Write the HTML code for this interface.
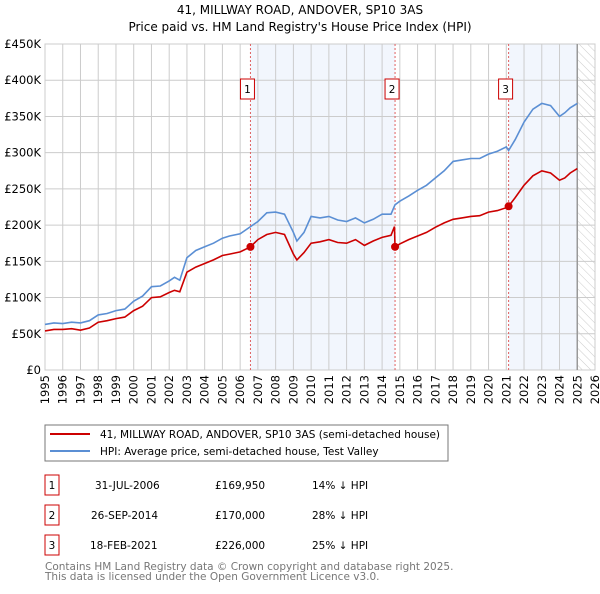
<!DOCTYPE html>
<html><head><meta charset="utf-8"><style>
body{margin:0;background:#fff;font-family:"DejaVu Sans","Liberation Sans",sans-serif;}
svg text{font-family:"DejaVu Sans","Liberation Sans",sans-serif;}
</style></head><body>
<svg id="c" width="600" height="590" xmlns="http://www.w3.org/2000/svg">
<defs><pattern id="hatch" width="6" height="6" patternUnits="userSpaceOnUse" patternTransform="rotate(-45)"><line x1="0" y1="0" x2="0" y2="6" stroke="#ccc" stroke-width="1"/></pattern></defs>
<text x="300" y="14" text-anchor="middle" font-size="12">41, MILLWAY ROAD, ANDOVER, SP10 3AS</text>
<text x="300" y="31" text-anchor="middle" font-size="12">Price paid vs. HM Land Registry's House Price Index (HPI)</text>
<g id="plot"></g>
<rect x="45" y="425" width="403" height="36" fill="#fff" stroke="#777"/>
<line x1="50" y1="434" x2="90" y2="434" stroke="#cc0000" stroke-width="2"/>
<text x="100" y="438" font-size="10.5">41, MILLWAY ROAD, ANDOVER, SP10 3AS (semi-detached house)</text>
<line x1="50" y1="451" x2="90" y2="451" stroke="#5b8fd4" stroke-width="2"/>
<text x="100" y="455" font-size="10.5">HPI: Average price, semi-detached house, Test Valley</text>
<g font-size="10.5">
<rect x="45" y="475" width="14" height="20" fill="none" stroke="#c00"/><text x="52" y="489" text-anchor="middle">1</text>
<text x="95" y="489">31-JUL-2006</text><text x="215" y="489">£169,950</text><text x="312" y="489">14% ↓ HPI</text>
<rect x="45" y="505" width="14" height="20" fill="none" stroke="#c00"/><text x="52" y="519" text-anchor="middle">2</text>
<text x="91" y="519">26-SEP-2014</text><text x="215" y="519">£170,000</text><text x="312" y="519">28% ↓ HPI</text>
<rect x="45" y="535" width="14" height="20" fill="none" stroke="#c00"/><text x="52" y="549" text-anchor="middle">3</text>
<text x="90" y="549">18-FEB-2021</text><text x="215" y="549">£226,000</text><text x="312" y="549">25% ↓ HPI</text>
</g>
<text x="45" y="570" font-size="10.5" fill="#777">Contains HM Land Registry data © Crown copyright and database right 2025.</text>
<text x="45" y="580" font-size="10.5" fill="#777">This data is licensed under the Open Government Licence v3.0.</text>
</svg>
<script>
const yTicks=[0,50000,100000,150000,200000,250000,300000,350000,400000,450000];
const yTickLabels=["£0","£50K","£100K","£150K","£200K","£250K","£300K","£350K","£400K","£450K"];
const xYears=[1995,1996,1997,1998,1999,2000,2001,2002,2003,2004,2005,2006,2007,2008,2009,2010,2011,2012,2013,2014,2015,2016,2017,2018,2019,2020,2021,2022,2023,2024,2025,2026];
const hpiT=[1995,1995.5,1996,1996.5,1997,1997.5,1998,1998.5,1999,1999.5,2000,2000.5,2001,2001.5,2002,2002.3,2002.6,2003,2003.5,2004,2004.5,2005,2005.4,2006,2006.58,2007,2007.5,2008,2008.5,2009,2009.2,2009.6,2010,2010.5,2011,2011.5,2012,2012.5,2013,2013.5,2014,2014.5,2014.73,2015,2015.5,2016,2016.5,2017,2017.5,2018,2018.5,2019,2019.5,2020,2020.5,2021,2021.13,2021.5,2022,2022.5,2023,2023.5,2024,2024.3,2024.6,2025];
const hpiV=[63000,65000,64000,66000,65000,68000,76000,78000,82000,84000,95000,102000,115000,116000,123000,128000,124000,155000,165000,170000,175000,182000,185000,188000,198000,205000,217000,218000,215000,190000,178000,190000,212000,210000,212000,207000,205000,210000,203000,208000,215000,215000,228000,233000,240000,248000,255000,265000,275000,288000,290000,292000,292000,298000,302000,308000,303000,318000,342000,360000,368000,365000,350000,355000,362000,368000];
const priceT=[1995,1995.5,1996,1996.5,1997,1997.5,1998,1998.5,1999,1999.5,2000,2000.5,2001,2001.5,2002,2002.3,2002.6,2003,2003.5,2004,2004.5,2005,2005.4,2006,2006.58,2007,2007.5,2008,2008.5,2009,2009.2,2009.6,2010,2010.5,2011,2011.5,2012,2012.5,2013,2013.5,2014,2014.5,2014.7,2014.73,2015,2015.5,2016,2016.5,2017,2017.5,2018,2018.5,2019,2019.5,2020,2020.5,2021,2021.13,2021.5,2022,2022.5,2023,2023.5,2024,2024.3,2024.6,2025];
const priceV=[54000,56000,56000,57000,55000,58000,66000,68000,71000,73000,82000,88000,100000,101000,107000,110000,108000,135000,142000,147000,152000,158000,160000,163000,170000,180000,187000,190000,187000,160000,152000,162000,175000,177000,180000,176000,175000,180000,172000,178000,183000,186000,198000,170000,174000,180000,185000,190000,197000,203000,208000,210000,212000,213000,218000,220000,224000,226000,238000,255000,268000,275000,272000,262000,265000,272000,278000];
const saleT=[2006.58,2014.73,2021.13];
const saleV=[169950,170000,226000];
const saleLbl=["1","2","3"];
const X0=45,X1=595,Y0=370,Y1=44;
const xs=t=>X0+(t-1995)/(2026-1995)*(X1-X0);
const ys=v=>Y0-v/450000*(Y0-Y1);
const NS="http://www.w3.org/2000/svg";
const g=document.getElementById('plot');
function mk(tag,at,txt){const e=document.createElementNS(NS,tag);for(const k in at)e.setAttribute(k,at[k]);if(txt!==undefined)e.textContent=txt;g.appendChild(e);return e;}
let r;
r=mk('rect',{x:xs(saleT[0]),y:Y1,width:xs(saleT[1])-xs(saleT[0]),height:Y0-Y1,fill:'#f2f6fd'});

r=mk('rect',{x:xs(saleT[2]),y:Y1,width:xs(2025.0)-xs(saleT[2]),height:Y0-Y1,fill:'#f2f6fd'});

r=mk('rect',{x:xs(2025.0),y:Y1,width:X1-xs(2025.0),height:Y0-Y1,fill:'url(#hatch)'});

yTicks.forEach((v,i)=>{
 let l=mk('line',{x1:X0,x2:X1,y1:ys(v),y2:ys(v),stroke:'#ccc'});
 
 let t=mk('text',{x:X0-4,y:ys(v)+4,'text-anchor':'end','font-size':'11.5'},yTickLabels[i]);
 
});
xYears.forEach(y=>{
 let l=mk('line',{x1:xs(y),x2:xs(y),y1:Y1,y2:Y0,stroke:'#ccc'});
 
 const tx=xs(y)+4, ty=375;
 let t=mk('text',{x:tx,y:ty,'text-anchor':'end','font-size':'11.5',transform:'rotate(-90 '+tx+' '+ty+')'},String(y));
 
});
r=mk('rect',{x:X0,y:Y1,width:X1-X0,height:Y0-Y1,fill:'none',stroke:'#ccc'});

let nl=mk('line',{x1:xs(2025.0),x2:xs(2025.0),y1:Y1,y2:Y0,stroke:'#999','stroke-width':1.5});

saleT.forEach((t,i)=>{
 let l=mk('line',{x1:xs(t),x2:xs(t),y1:Y1,y2:Y0,stroke:'#e06060','stroke-dasharray':'2,2'});
 
});
const pts=(T,V)=>T.map((t,i)=>xs(t).toFixed(1)+','+ys(V[i]).toFixed(1)).join(' ');
let hp=mk('polyline',{points:pts(hpiT,hpiV),fill:'none',stroke:'#5b8fd4','stroke-width':1.6});

let pp=mk('polyline',{points:pts(priceT,priceV),fill:'none',stroke:'#cc0000','stroke-width':1.6});

saleT.forEach((t,i)=>{
 let c=mk('circle',{cx:xs(t),cy:ys(saleV[i]),r:4,fill:'#cc0000'});
 
 let b=mk('rect',{x:xs(t)-10,y:79,width:14,height:20,fill:'#fff',stroke:'#c00'});
 
 let tx=mk('text',{x:xs(t)-3,y:93,'text-anchor':'middle','font-size':'10.5'},saleLbl[i]);
 
});
</script>
</body></html>
